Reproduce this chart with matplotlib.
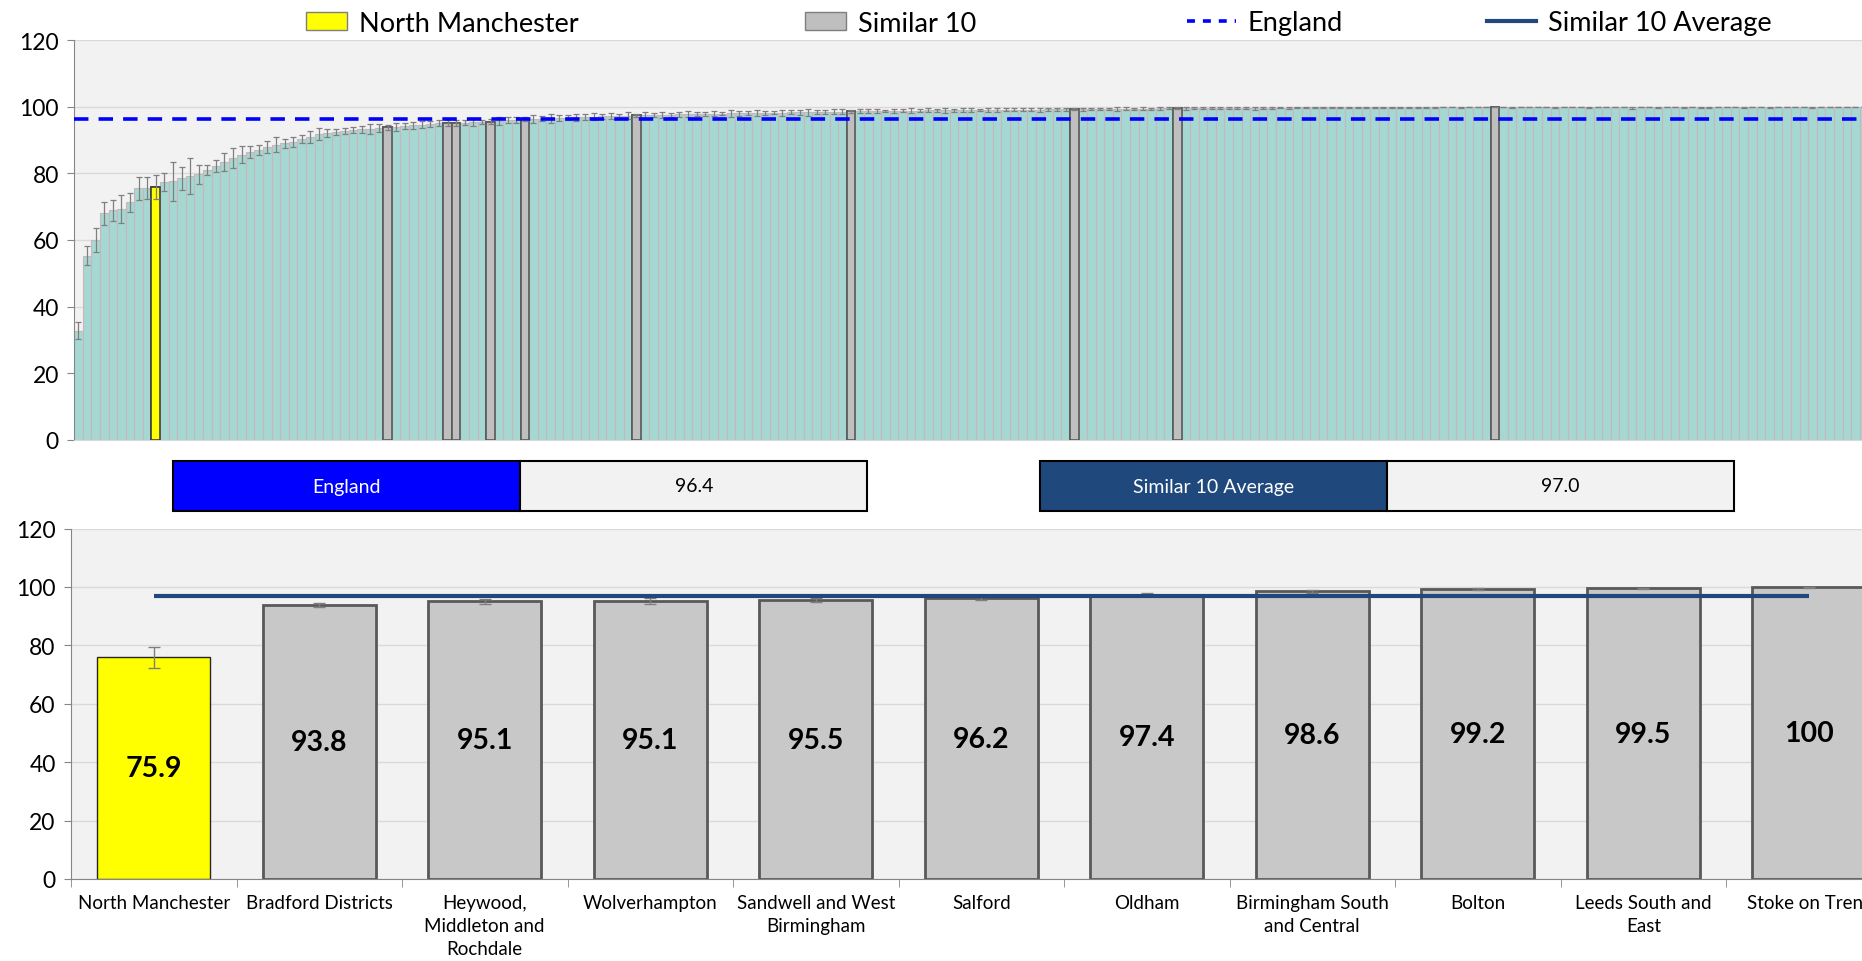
import numpy as np
import matplotlib
matplotlib.use('Agg')
import matplotlib.pyplot as plt
from matplotlib.patches import Rectangle, Patch
from matplotlib.lines import Line2D

plt.rcParams['font.family'] = ['Lato', 'DejaVu Sans']

# ranked values for all areas (top chart), ascending
rank_values = [
    32.7, 55.3, 60.1, 68.0, 68.9, 69.2, 71.3, 75.5, 75.6, 75.9,
    77.3, 77.6, 78.5, 79.2, 79.7, 81.0, 82.2, 83.4, 84.5, 85.6,
    86.4, 87.0, 87.9, 88.6, 89.0, 89.4, 90.3, 90.9, 91.7, 92.1,
    92.4, 92.7, 93.0, 93.2, 93.4, 93.6, 93.8, 94.0, 94.2, 94.4,
    94.6, 94.8, 95.0, 95.1, 95.1, 95.2, 95.3, 95.4, 95.5, 95.7,
    95.9, 96.0, 96.2, 96.3, 96.4, 96.5, 96.6, 96.7, 96.8, 96.9,
    97.0, 97.1, 97.2, 97.3, 97.3, 97.4, 97.5, 97.5, 97.6, 97.6,
    97.7, 97.7, 97.8, 97.8, 97.9, 97.9, 98.0, 98.0, 98.0, 98.1,
    98.1, 98.2, 98.2, 98.3, 98.3, 98.3, 98.4, 98.4, 98.5, 98.5,
    98.6, 98.6, 98.7, 98.7, 98.7, 98.8, 98.8, 98.8, 98.8, 98.9,
    98.9, 98.9, 98.9, 99.0, 99.0, 99.0, 99.0, 99.0, 99.1, 99.1,
    99.1, 99.1, 99.1, 99.2, 99.2, 99.2, 99.2, 99.2, 99.3, 99.3,
    99.3, 99.3, 99.4, 99.4, 99.4, 99.4, 99.5, 99.5, 99.5, 99.5,
    99.5, 99.6, 99.6, 99.6, 99.6, 99.6, 99.7, 99.7, 99.7, 99.7,
    99.7, 99.7, 99.8, 99.8, 99.8, 99.8, 99.8, 99.8, 99.8, 99.9,
    99.9, 99.9, 99.9, 99.9, 99.9, 99.9, 99.9, 100.0, 100.0, 100.0,
    100.0, 100.0, 100.0, 100.0, 100.0, 100.0, 100.0, 100.0, 100.0, 100.0,
    100.0, 100.0, 100.0, 100.0, 100.0, 100.0, 100.0, 100.0, 100.0, 100.0,
    100.0, 100.0, 100.0, 100.0, 100.0, 100.0, 100.0, 100.0, 100.0, 100.0,
    100.0, 100.0, 100.0, 100.0, 100.0, 100.0, 100.0, 100.0, 100.0, 100.0,
    100.0, 100.0, 100.0, 100.0, 100.0, 100.0, 100.0, 100.0, 100.0,
]

# confidence interval half widths
rank_err = [
    2.6, 2.8, 3.6, 3.5, 3.2, 4.2, 2.8, 3.5, 3.3, 3.5,
    2.7, 5.8, 3.4, 5.4, 2.9, 1.5, 1.9, 2.7, 3.0, 2.6,
    1.8, 1.5, 1.8, 2.2, 1.4, 1.6, 1.1, 1.9, 1.8, 1.3,
    0.9, 0.8, 0.9, 1.0, 1.5, 1.3, 0.8, 1.2, 0.9, 1.1,
    1.0, 0.8, 0.9, 0.9, 1.0, 0.8, 1.1, 0.7, 0.8, 1.2,
    0.9, 1.0, 0.6, 1.2, 0.8, 1.3, 0.9, 0.7, 1.1, 0.8,
    1.0, 0.7, 0.9, 0.6, 1.1, 0.5, 0.8, 0.7, 0.9, 0.6,
    0.8, 0.9, 0.6, 0.7, 0.8, 0.5, 1.0, 0.7, 0.6, 0.8,
    0.7, 0.5, 0.9, 0.6, 0.7, 1.1, 0.6, 0.5, 0.7, 0.8,
    0.5, 0.6, 0.5, 0.7, 0.4, 0.6, 0.5, 0.8, 0.4, 0.6,
    0.5, 0.7, 0.4, 0.5, 0.6, 0.4, 0.5, 0.7, 0.4, 0.5,
    0.5, 0.4, 0.6, 0.4, 0.5, 0.4, 0.3, 0.5, 0.4, 0.4,
    0.3, 0.5, 0.4, 0.3, 0.4, 0.3, 0.4, 0.3, 0.3, 0.4,
    0.3, 0.3, 0.4, 0.3, 0.3, 0.3, 0.3, 0.6, 0.3, 0.3,
    0.2, 0.3, 0.3, 0.2, 0.3, 0.2, 0.2, 0.3, 0.2, 0.2,
    0.2, 0.2, 0.2, 0.2, 0.2, 0.2, 0.2, 0.5, 0.3, 0.2,
    0.2, 0.3, 0.2, 0.2, 0.2, 0.2, 0.2, 0.3, 0.2, 0.2,
    0.2, 0.2, 0.3, 0.2, 0.2, 0.2, 0.5, 0.2, 0.2, 0.2,
    0.2, 0.7, 0.2, 0.2, 0.3, 0.2, 0.2, 0.3, 0.2, 0.3,
    0.3, 0.2, 0.2, 0.2, 0.3, 0.2, 0.2, 0.3, 0.2, 0.2,
    0.2, 0.2, 0.3, 0.2, 0.2, 0.2, 0.2, 0.2, 0.2,
]

# North Manchester first, then its similar 10 (ranks in the top chart)
names = ['North Manchester', 'Bradford Districts', 'Heywood,\nMiddleton and\nRochdale',
         'Wolverhampton', 'Sandwell and West\nBirmingham', 'Salford', 'Oldham',
         'Birmingham South\nand Central', 'Bolton', 'Leeds South and\nEast', 'Stoke on Trent']
ranks = [9, 36, 43, 44, 48, 52, 65, 90, 116, 128, 165]

england = 96.4
similar_avg = 97.0

W, H = 1862, 962
fig = plt.figure(figsize=(W / 100, H / 100), dpi=100)

bg = '#F2F2F2'
grid_c = '#D9D9D9'
axis_c = '#868686'
teal = '#A6D8D3'
yellow = '#FFFF00'
grey = '#C8C8C8'

# ---- top chart ----
n = len(rank_values)
ax1 = fig.add_axes([74.2 / W, 1 - 440.7 / H, n * 8.584 / W, (440.7 - 41.1) / H])
ax1.set_facecolor(bg)
x = np.arange(n)
vals = np.array(rank_values)
err = np.array(rank_err)
colors = [teal] * n
edges = ['#C9B6BD'] * n
lws = [0.8] * n
for k, r in enumerate(ranks):
    colors[r] = yellow if k == 0 else '#BFBFBF'
    edges[r] = '#404040' if k == 0 else '#595959'
    lws[r] = 1.2
ax1.bar(x, vals, width=1.0, color=colors, edgecolor=edges, linewidth=lws, zorder=2)
# redraw highlighted bars on top so their edges are not hidden
ax1.bar([x[r] for r in ranks], [vals[r] for r in ranks], width=1.0,
        color=[colors[r] for r in ranks], edgecolor=[edges[r] for r in ranks],
        linewidth=1.2, zorder=3)
upper = np.minimum(err, 100 - vals)
ax1.errorbar(x, vals, yerr=[err, upper], fmt='none', ecolor='#7F7F7F',
             elinewidth=0.9, capsize=2.2, capthick=0.9, zorder=4)
ax1.axhline(england, color='#0000FF', lw=2.6, dashes=(4.0, 2.8), zorder=5)
ax1.set_xlim(-0.5, n - 0.5)
ax1.set_ylim(0, 120)
ax1.set_yticks(range(0, 121, 20))
ax1.yaxis.grid(True, color=grid_c, lw=1)
ax1.set_axisbelow(True)
ax1.set_xticks([])
for s in ['top', 'right']:
    ax1.spines[s].set_visible(False)
ax1.spines['left'].set_color(axis_c)
ax1.spines['bottom'].set_color(grid_c)
ax1.tick_params(axis='y', length=5, color=axis_c, labelsize=16.5, pad=6)

# ---- legend ----
leg_items = [
    (Patch(facecolor=yellow, edgecolor='#7F7F7F'), 'North Manchester', 306, 1.5),
    (Patch(facecolor='#BFBFBF', edgecolor='#7F7F7F'), 'Similar 10', 805, 1.5),
    (Line2D([], [], color='#0000FF', lw=2.6, dashes=(2.2, 2.2)), 'England', 1187, 1.8),
    (Line2D([], [], color='#1F497D', lw=3), 'Similar 10 Average', 1487, 1.8),
]
for h, lab, px, hl in leg_items:
    fig.legend([h], [lab], loc='center left', bbox_to_anchor=(px / W, 1 - 24 / H),
               frameon=False, fontsize=19.5, handlelength=hl, handleheight=0.6,
               handletextpad=0.45, borderpad=0, borderaxespad=0)

# ---- middle value boxes ----
boxes = [(173.4, 'England', england, '#0000FF'),
         (1040, 'Similar 10 Average', similar_avg, '#1F497D')]
for bx, lab, val, c in boxes:
    y0, bh, bw = 1 - 512 / H, 50 / H, 347 / W
    fig.add_artist(Rectangle((bx / W, y0), bw, bh, transform=fig.transFigure,
                             facecolor=c, edgecolor='black', lw=1.5))
    fig.add_artist(Rectangle((bx / W + bw, y0), bw, bh, transform=fig.transFigure,
                             facecolor=bg, edgecolor='black', lw=1.5))
    fig.text(bx / W + bw / 2, y0 + bh / 2, lab, color='white', fontsize=14,
             ha='center', va='center')
    fig.text(bx / W + 1.5 * bw, y0 + bh / 2, f'{val:.1f}', color='black',
             fontsize=14, ha='center', va='center')

# ---- bottom chart ----
m = len(names)
ax2 = fig.add_axes([71 / W, 1 - 880 / H, m * 165.5 / W, 350.4 / H])
ax2.set_facecolor(bg)
xb = np.arange(m)
bvals = [rank_values[r] for r in ranks]
blo = [rank_err[r] for r in ranks]
bhi = [min(rank_err[r], 100 - rank_values[r]) for r in ranks]
bcols = [yellow] + [grey] * (m - 1)
bedges = ['#262626'] + ['#595959'] * (m - 1)
blws = [1.0] + [2.0] * (m - 1)
ax2.bar(xb, bvals, width=0.68, color=bcols, edgecolor=bedges, linewidth=blws, zorder=2)
ax2.errorbar(xb, bvals, yerr=[blo, bhi], fmt='none', ecolor='#7F7F7F',
             elinewidth=1, capsize=4, capthick=1, zorder=3)
ax2.plot([xb[0], xb[-1]], [similar_avg, similar_avg], color='#1F497D', lw=3,
         solid_capstyle='butt', zorder=4)
for xi, v in zip(xb, bvals):
    ax2.text(xi, v / 2, f'{v:g}', ha='center', va='center', fontsize=20.5,
             fontweight='bold', zorder=5)
ax2.set_xlim(-0.5, m - 0.5)
ax2.set_ylim(0, 120)
ax2.set_yticks(range(0, 121, 20))
ax2.yaxis.grid(True, color=grid_c, lw=1)
ax2.set_axisbelow(True)
ax2.set_xticks(xb)
ax2.set_xticklabels(names, fontsize=13.5, linespacing=1.42, va='top')
ax2.set_xticks(np.arange(-0.5, m, 1), minor=True)
ax2.tick_params(axis='x', which='major', length=0, pad=11)
ax2.tick_params(axis='x', which='minor', length=6, color=axis_c)
for s in ['top', 'right']:
    ax2.spines[s].set_visible(False)
ax2.spines['left'].set_color(axis_c)
ax2.spines['bottom'].set_color(axis_c)
ax2.tick_params(axis='y', length=5, color=axis_c, labelsize=16.5, pad=6)

fig.savefig('out.png', dpi=100, facecolor='white')
